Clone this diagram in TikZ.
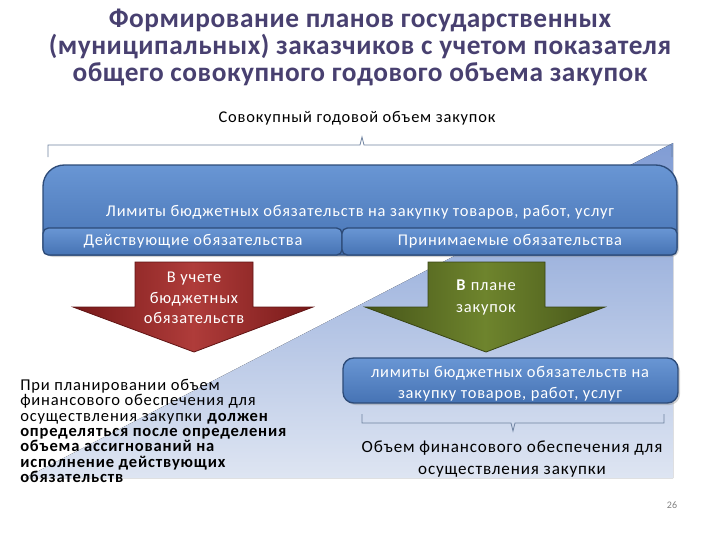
\documentclass[tikz,border=0pt]{standalone}
\usepackage{fontspec}
\setmainfont{Carlito}
\newfontfamily\wide[LetterSpace=5]{Carlito}
\newfontfamily\widetitle[LetterSpace=2]{Carlito}
\usetikzlibrary{shadows}
\definecolor{titlec}{RGB}{72,64,112}
\definecolor{boxtop}{RGB}{105,150,212}
\definecolor{boxbot}{RGB}{70,115,180}
\definecolor{boxline}{RGB}{45,75,120}
\definecolor{redd}{RGB}{120,25,25}
\definecolor{redl}{RGB}{175,60,58}
\definecolor{greend}{RGB}{70,85,25}
\definecolor{greenl}{RGB}{110,132,45}
\definecolor{triTop}{RGB}{128,156,212}
\definecolor{triBot}{RGB}{222,229,242}
\definecolor{bracec}{RGB}{110,130,160}
\tikzset{
  bluebox/.style={draw=boxline, line width=1pt, top color=boxtop, bottom color=boxbot, drop shadow={opacity=0.35, shadow xshift=1.5pt, shadow yshift=-1.5pt}},
  wtext/.style={text=white, font=\wide\fontsize{12.3}{14}\selectfont},
  btext/.style={text=black, font=\wide\fontsize{12.3}{16}\selectfont},
  bracestyle/.style={draw=bracec, line width=0.6pt},
}
\begin{document}
\begin{tikzpicture}[x=0.75pt,y=0.75pt]
\useasboundingbox (0,0) rectangle (720,-540);
% background ramp
\fill[top color=triTop, bottom color=triBot] (673,-143) -- (673,-478) -- (25,-478) -- cycle;
% title
\node[text=titlec, font=\widetitle\bfseries\fontsize{20.5}{20.25}\selectfont, align=center] (title) at (360,-47)
  {Формирование планов государственных\\(муниципальных) заказчиков с учетом показателя\\общего совокупного годового объема закупок};
\node[font=\wide\fontsize{12.3}{14}\selectfont] (total) at (357,-118) {Совокупный годовой объем закупок};
% top brace
\coordinate (tb1) at (48,-157);
\coordinate (tb2) at (672,-157);
\coordinate (tbt) at (362,-137);
\draw[bracestyle] (tb1) -- (48,-145) -- (360,-145) -- (tbt) -- (364,-145) -- (672,-145) -- (tb2);
% main box
\draw[bluebox] (43,-240) [rounded corners=16] -- (43,-165) -- (677,-165) [rounded corners=6] -- (677,-255) -- (43,-255) -- cycle;
\node[wtext] (limits) at (360,-212) {Лимиты бюджетных обязательств на закупку товаров, работ, услуг};
\draw[draw=boxline, line width=1pt, top color=boxtop, bottom color=boxbot, rounded corners=4] (43,-228) rectangle (342,-255);
\draw[draw=boxline, line width=1pt, top color=boxtop, bottom color=boxbot, rounded corners=4] (342,-228) rectangle (677,-255);
\node[wtext] (acting) at (193,-241) {Действующие обязательства};
\node[wtext] (taken) at (510,-241) {Принимаемые обязательства};
% red arrow
\path[draw=redd!80!black, line width=0.6pt, left color=redd, right color=redd, middle color=redl]
  (135,-262) -- (253,-262) -- (253,-307) -- (313,-307) -- (194,-352) -- (73,-307) -- (135,-307) -- cycle;
\node[wtext, align=center, font=\wide\fontsize{12.3}{15.5}\selectfont] (redarrow) at (194,-298) {В учете\\бюджетных\\обязательств};
% green arrow
\path[draw=greend!80!black, line width=0.6pt, left color=greend, right color=greend, middle color=greenl]
  (428,-262) -- (545,-262) -- (545,-307) -- (605,-307) -- (486,-352) -- (365,-307) -- (428,-307) -- cycle;
\node[wtext, align=center, font=\wide\fontsize{12.3}{16.5}\selectfont] (greenarrow) at (486,-297) {\textbf{В} плане\\закупок};
% lower box
\draw[bluebox, rounded corners=8] (343,-358) rectangle (678,-403);
\node[wtext, align=center, font=\wide\fontsize{12.3}{15.75}\selectfont] (limits2) at (510,-384) {лимиты бюджетных обязательств на\\закупку товаров, работ, услуг};
% lower brace
\coordinate (lb1) at (362,-414);
\coordinate (lb2) at (664,-414);
\coordinate (lbt) at (513,-431);
\draw[bracestyle] (lb1) -- (362,-423) -- (511,-423) -- (lbt) -- (515,-423) -- (664,-423) -- (lb2);
\node[btext, align=center, font=\wide\fontsize{12.8}{17}\selectfont] (fin) at (512,-459) {Объем финансового обеспечения для\\осуществления закупки};
% left paragraph
\node[anchor=north west, align=left, inner sep=0pt, font=\wide\fontsize{12.4}{11.5}\selectfont] (para) at (20,-379)
  {При планировании объем\\финансового обеспечения для\\осуществления закупки \textbf{должен}\\\textbf{определяться после определения}\\\textbf{объема ассигнований на}\\\textbf{исполнение действующих}\\\textbf{обязательств}};
% page number
\node[text=gray, font=\fontsize{7.5}{9}\selectfont] (page) at (672,-505) {26};
\end{tikzpicture}
\end{document}
